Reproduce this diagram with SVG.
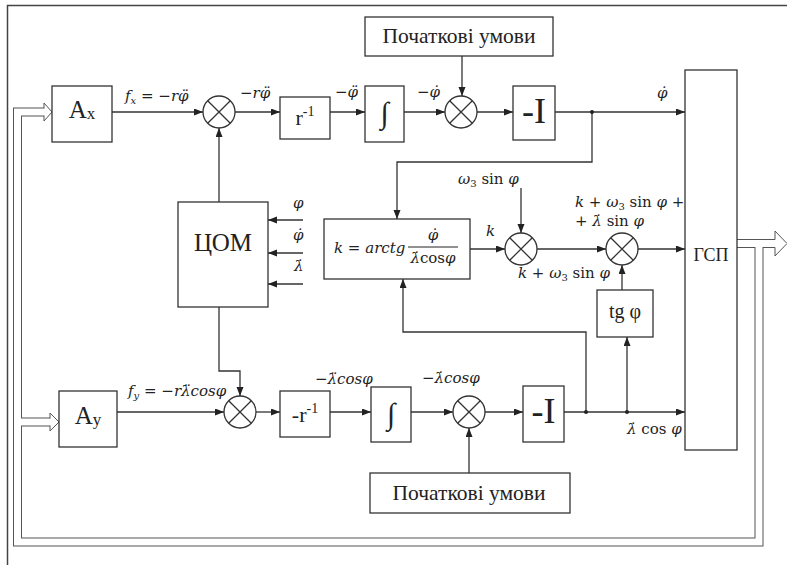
<svg xmlns="http://www.w3.org/2000/svg" width="787" height="565" viewBox="0 0 787 565">
<style>
  .box { fill: #fff; stroke: #333; stroke-width: 1.3; }
  .ln { fill: none; stroke: #333; stroke-width: 1.3; }
  .tx { font-family: "Liberation Serif", "Times New Roman", serif; fill: #222; }
  .m { font-family: "DejaVu Serif", "Liberation Serif", serif; font-style: italic; font-size: 15px; fill: #222; }
  .up { font-style: normal; }
  .busd { fill: none; stroke: #555; stroke-width: 9; stroke-linejoin: miter; }
  .busw { fill: none; stroke: #fff; stroke-width: 7; stroke-linejoin: miter; }
  .head { fill: #fff; stroke: #555; stroke-width: 1; stroke-linejoin: miter; }
</style>
<defs>
  <marker id="ar" markerUnits="userSpaceOnUse" markerWidth="10" markerHeight="8" refX="9" refY="3.5" orient="auto">
    <path d="M0,0 L9,3.5 L0,7 z" fill="#222"/>
  </marker>
  <g id="mult">
    <circle r="16" fill="#fff" stroke="#333" stroke-width="1.3"/>
    <path d="M-11.3,-11.3 L11.3,11.3 M-11.3,11.3 L11.3,-11.3" stroke="#333" stroke-width="1.3"/>
  </g>
</defs>
<rect width="787" height="565" fill="#fff"/>
<path d="M7.5,565 V5.5 H787" fill="none" stroke="#444" stroke-width="1.5"/>

<g id="connectors">
  <g id="bus">
    <path class="busd" d="M737,243.5 H775 M759,243.5 V542 H17.5 V112 H44 M17.5,422 H50"/>
    <path class="busw" d="M737,243.5 H775 M759,243.5 V542 H17.5 V112 H44 M17.5,422 H50"/>
    <path class="head" d="M775,239.5 V231 L787,243.5 L775,256 V247.5"/>
    <path class="head" d="M44,108.5 V103 L52,112 L44,121 V115.5"/>
    <path class="head" d="M50,418.5 V413 L59,422 L50,431 V425.5"/>
  </g>
  <g class="ln" marker-end="url(#ar)">
    <path d="M112,112 H203"/>
    <path d="M235,112 H280"/>
    <path d="M330,112 H365"/>
    <path d="M404,112 H445"/>
    <path d="M462,56 V96"/>
    <path d="M477,112 H513"/>
    <path d="M555,112 H685"/>
    <path d="M592,112 V162 H397 V219"/>
    <path d="M219,202 V128"/>
    <path d="M303,220 H268"/>
    <path d="M303,253 H268"/>
    <path d="M303,284 H268"/>
    <path d="M219,307 V371 H240 V396"/>
    <path d="M117,412 H224"/>
    <path d="M256,412 H280"/>
    <path d="M330,412 H371"/>
    <path d="M411,412 H453"/>
    <path d="M469,473 V428"/>
    <path d="M485,412 H523"/>
    <path d="M564,412 H685"/>
    <path d="M586,412 V332 H403 V279"/>
    <path d="M627,412 V337"/>
    <path d="M622,290 V265"/>
    <path d="M470,249 H505"/>
    <path d="M521,188 V233"/>
    <path d="M537,249 H606"/>
    <path d="M638,249 H685"/>
  </g>
  <g fill="#222">
    <circle cx="592" cy="112" r="2"/>
    <circle cx="586" cy="412" r="2"/>
    <circle cx="627" cy="412" r="2"/>
  </g>
</g>

<g id="Ax"><rect class="box" x="52" y="86" width="60" height="56"/>
  <text class="tx" x="82" y="118" font-size="25" text-anchor="middle">A<tspan font-size="17" dy="1">x</tspan></text></g>
<g id="Ay"><rect class="box" x="59" y="391" width="58" height="56"/>
  <text class="tx" x="88" y="424" font-size="25" text-anchor="middle">A<tspan font-size="17" dy="1">y</tspan></text></g>
<g id="mul1"><use href="#mult" x="219" y="112"/></g>
<g id="mul2"><use href="#mult" x="461" y="112"/></g>
<g id="mul3"><use href="#mult" x="240" y="412"/></g>
<g id="mul4"><use href="#mult" x="469" y="412"/></g>
<g id="mul5"><use href="#mult" x="521" y="249"/></g>
<g id="mul6"><use href="#mult" x="622" y="249"/></g>
<g id="rinv1"><rect class="box" x="280" y="97" width="50" height="42"/>
  <text class="tx" x="305" y="125" font-size="22" text-anchor="middle">r<tspan font-size="14" dy="-9">-1</tspan></text></g>
<g id="rinv2"><rect class="box" x="280" y="391" width="50" height="46"/>
  <text class="tx" x="305" y="422" font-size="22" text-anchor="middle">-r<tspan font-size="14" dy="-9">-1</tspan></text></g>
<g id="int1"><rect class="box" x="365" y="86" width="39" height="56"/>
  <text class="tx" x="384.5" y="123" font-size="30" text-anchor="middle">∫</text></g>
<g id="int2"><rect class="box" x="371" y="387" width="40" height="55"/>
  <text class="tx" x="391" y="424" font-size="30" text-anchor="middle">∫</text></g>
<g id="neg1"><rect class="box" x="513" y="86" width="42" height="54"/>
  <text class="tx" x="534" y="123" font-size="36" text-anchor="middle">-I</text></g>
<g id="neg2"><rect class="box" x="523" y="386" width="41" height="56"/>
  <text class="tx" x="543.5" y="423" font-size="36" text-anchor="middle">-I</text></g>
<g id="init1"><rect class="box" x="365" y="17" width="188" height="39"/>
  <text class="tx" x="459" y="43" font-size="21.5" text-anchor="middle">Початкові умови</text></g>
<g id="init2"><rect class="box" x="370" y="473" width="200" height="40"/>
  <text class="tx" x="469" y="500" font-size="21.5" text-anchor="middle">Початкові умови</text></g>
<g id="tsom"><rect class="box" x="178" y="202" width="90" height="105"/>
  <text class="tx" x="223" y="251" font-size="25" text-anchor="middle">ЦОМ</text></g>
<g id="formula"><rect class="box" x="324" y="219" width="146" height="60"/>
  <text class="m" x="334" y="253" font-size="14.5">k = arctg</text>
  <text class="m" x="433" y="240" text-anchor="middle">φ̇</text>
  <line x1="408" y1="247" x2="458" y2="247" stroke="#222" stroke-width="1"/>
  <text class="m" x="433" y="263" text-anchor="middle">λ̇<tspan class="up">cos</tspan>φ</text></g>
<g id="tg"><rect class="box" x="597" y="290" width="56" height="47"/>
  <text class="tx" x="625" y="318" font-size="20" text-anchor="middle">tg φ</text></g>
<g id="gsp"><rect class="box" x="685" y="70" width="52" height="380"/>
  <text class="tx" x="711" y="261" font-size="18" text-anchor="middle">ГСП</text></g>

<g id="labels">
  <text class="m" x="125" y="101">f<tspan font-size="10" dy="3">x</tspan><tspan dy="-3"> = −rφ̈</tspan></text>
  <text class="m" x="240" y="98">−rφ̈</text>
  <text class="m" x="335" y="97">−φ̈</text>
  <text class="m" x="417" y="97">−φ̇</text>
  <text class="m" x="657" y="98">φ̇</text>
  <text class="m" x="293" y="208">φ</text>
  <text class="m" x="293" y="240">φ̇</text>
  <text class="m" x="294" y="271">λ̇</text>
  <text class="m" x="458" y="184">ω<tspan font-size="10" dy="3" class="up">3</tspan><tspan dy="-3" class="up"> sin </tspan>φ</text>
  <text class="m" x="486" y="236">k</text>
  <text class="m" x="518" y="278" font-size="14">k <tspan class="up">+ </tspan>ω<tspan font-size="10" dy="3" class="up">3</tspan><tspan dy="-3" class="up"> sin </tspan>φ</text>
  <text class="m" x="575" y="207" font-size="14">k <tspan class="up">+ </tspan>ω<tspan font-size="10" dy="3" class="up">3</tspan><tspan dy="-3" class="up"> sin </tspan>φ<tspan class="up"> +</tspan></text>
  <text class="m" x="575" y="226" font-size="14"><tspan class="up">+ </tspan>λ̇<tspan class="up"> sin </tspan>φ</text>
  <text class="m" x="128" y="396">f<tspan font-size="10" dy="3">y</tspan><tspan dy="-3"> = −rλ̈cosφ</tspan></text>
  <text class="m" x="315" y="384">−λ̈cosφ</text>
  <text class="m" x="422" y="383">−λ̇cosφ</text>
  <text class="m" x="627" y="434">λ̇<tspan class="up"> cos </tspan>φ</text>
</g>
</svg>
